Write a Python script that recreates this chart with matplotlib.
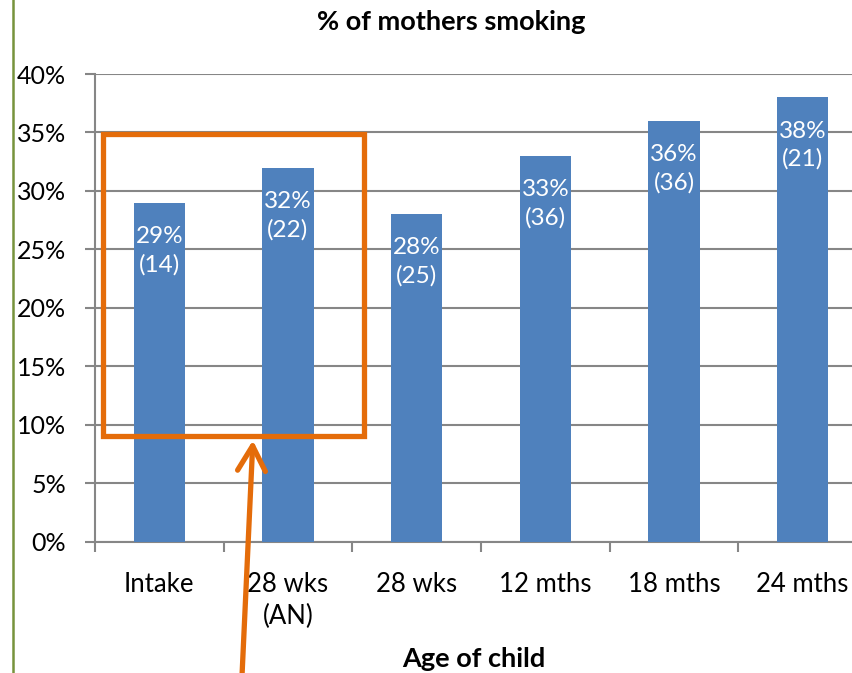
import matplotlib.pyplot as plt
import numpy as np
from matplotlib.patches import Rectangle
from matplotlib.lines import Line2D
from matplotlib.ticker import FuncFormatter

ages = ['Intake', '28 wks\n(AN)', '28 wks', '12 mths', '18 mths', '24 mths']
pct_smoking = [29, 32, 28, 33, 36, 38]
n_counts = [14, 22, 25, 36, 36, 21]

plt.rcParams['font.family'] = ['Lato', 'DejaVu Sans']

grey = '#868686'
blue = '#4F81BD'
orange = '#E46C0A'

W, H = 852, 673
fig = plt.figure(figsize=(W / 100, H / 100), dpi=100)
ax = fig.add_axes([95 / W, (H - 541.7) / H, (867 - 95) / W, (541.7 - 74) / H])

x = np.arange(len(ages))
ax.bar(x, pct_smoking, width=0.4, color=blue, zorder=3)

for xi, p, n in zip(x, pct_smoking, n_counts):
    ax.annotate('%d%%\n(%d)' % (p, n), xy=(xi, p), xytext=(0, -34.5),
                textcoords='offset points', ha='center', va='center',
                color='white', fontsize=17.5, linespacing=1.4, zorder=4)

ax.set_xlim(-0.5, len(ages) - 0.5)
ax.set_ylim(0, 40)
ax.set_yticks(range(0, 41, 5))
ax.yaxis.set_major_formatter(FuncFormatter(lambda v, _: '%d%%' % v))
ax.grid(axis='y', color=grey, linewidth=1.5, zorder=0)

ax.set_xticks(x)
ax.set_xticklabels(ages, fontsize=18.5, linespacing=1.35)
ax.set_xticks(np.arange(-0.5, len(ages)), minor=True)
ax.tick_params(axis='x', which='major', length=0, pad=22)
ax.tick_params(axis='x', which='minor', length=7, width=1.5, color=grey)
ax.tick_params(axis='y', length=7, width=1.5, color=grey, labelsize=18, pad=14)

for s in ['top', 'right']:
    ax.spines[s].set_visible(False)
for s in ['left', 'bottom']:
    ax.spines[s].set_color(grey)
    ax.spines[s].set_linewidth(1.5)

fig.text(451 / W, 1 - 22 / H, '% of mothers smoking', ha='center', va='center',
         fontsize=19.5, fontweight='bold')
fig.text(474 / W, 1 - 659 / H, 'Age of child', ha='center', va='center',
         fontsize=19.5, fontweight='bold')

# orange highlight box and arrow
ax.add_patch(Rectangle((-0.434, 9.05), 1.59 + 0.434, 34.86 - 9.05, fill=False,
                       edgecolor=orange, linewidth=3.8, zorder=5, clip_on=False))
ax.annotate('', xy=(0.728, 8.9), xytext=(0.634, -13.5),
            arrowprops=dict(arrowstyle='->,head_length=0.9,head_width=0.5',
                            color=orange, lw=3.8, mutation_scale=20),
            annotation_clip=False, zorder=5)

fig.add_artist(Line2D([13 / W, 13 / W], [0, 1], color='#77933C', linewidth=1.8))

fig.savefig('out.png', dpi=100)
